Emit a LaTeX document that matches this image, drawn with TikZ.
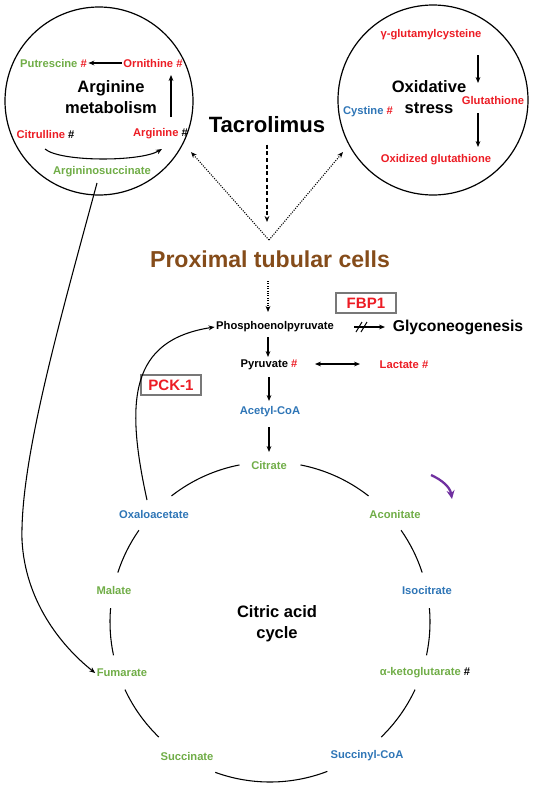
\documentclass[tikz,border=0pt]{standalone}
\usepackage{fontspec}
\setmainfont{Liberation Sans}
\usetikzlibrary{arrows.meta}
\definecolor{cred}{RGB}{236,28,36}
\definecolor{cgreen}{RGB}{112,173,71}
\definecolor{cblue}{RGB}{46,117,182}
\definecolor{cbrown}{RGB}{133,76,26}
\definecolor{cpurple}{RGB}{112,48,160}
\definecolor{cbox}{RGB}{120,120,120}
\begin{document}
\begin{tikzpicture}[x=0.75pt,y=-0.75pt,
  lbl/.style={font=\fontsize{8.4}{10}\selectfont\bfseries, inner sep=1pt},
  mid/.style={font=\fontsize{12.4}{15.7}\selectfont\bfseries, align=center, inner sep=1pt},
  big/.style={font=\fontsize{17}{20}\selectfont\bfseries, inner sep=1pt},
  boxed/.style={draw=cbox, line width=0.9pt, text=cred, font=\fontsize{11.3}{13}\selectfont\bfseries, minimum width=60*0.75pt, minimum height=20*0.75pt, inner sep=1pt},
  ar/.style={-{Stealth[length=4.5pt,width=3.6pt]}, line width=0.8pt},
  cyc/.style={line width=0.8pt},
  ring/.style={line width=0.9pt}]
\useasboundingbox (0,0) rectangle (540,810);

% circles
\draw[ring] (99,101) circle[radius=94];
\draw[ring] (433,100) circle[radius=95];

% arginine metabolism
\node[lbl, text=cgreen] (put) at (53.5,63) {Putrescine \textcolor{cred}{\#}};
\node[lbl, text=cred] (orn) at (153,63) {Ornithine \#};
\node[mid] (argm) at (111,97) {Arginine\\metabolism};
\node[lbl, text=cred] (cit) at (45.5,134) {Citrulline \textcolor{black}{\#}};
\node[lbl, text=cred] (arg) at (160.5,134) {Arginine \textcolor{black}{\#}};
\node[lbl, text=cgreen] (asuc) at (102,172) {Argininosuccinate};
\draw[ar] (orn.west) -- (put.east);
\coordinate (argtop) at (171,117);
\coordinate (orndown) at (171,75);
\draw[ar] (argtop) -- (orndown);
\coordinate (citb) at (45,149);
\coordinate (argb) at (162,149);
\draw[ar] (citb) .. controls (60,162) and (140,162) .. (argb);

% oxidative stress
\node[lbl, text=cred] (gg) at (431,35) {γ-glutamylcysteine};
\node[mid] (ox) at (429,97) {Oxidative\\stress};
\node[lbl, text=cred] (glu) at (493,100) {Glutathione};
\node[lbl, text=cblue] (cys) at (368,112) {Cystine \textcolor{cred}{\#}};
\node[lbl, text=cred] (oxg) at (436,160) {Oxidized glutathione};
\coordinate (g1) at (478,55);
\coordinate (g2) at (478,83);
\coordinate (g3) at (478,113);
\coordinate (g4) at (478,147);
\draw[ar] (g1) -- (g2);
\draw[ar] (g3) -- (g4);

% tacrolimus
\node[big, font=\fontsize{16.6}{20}\selectfont\bfseries] (tac) at (267,125) {Tacrolimus};
\coordinate (apex) at (269,240);
\coordinate (lc) at (191,152);
\coordinate (rc) at (343,152);
\draw[ar, densely dashed] (tac.south) ++(0,10) -- (267,222);
\draw[ar, densely dotted] (apex) -- (lc);
\draw[ar, densely dotted] (apex) -- (rc);
\node[big, text=cbrown, font=\fontsize{17.3}{20}\selectfont\bfseries] (ptc) at (270,259) {Proximal tubular cells};

% glycolysis part
\node[lbl, text=black] (pep) at (275,327) {Phosphoenolpyruvate};
\draw[ar, densely dotted] (268,281) -- (268,312);
\node[boxed] (fbp) at (366,303) {FBP1};
\node[font=\fontsize{11.8}{14}\selectfont\bfseries, inner sep=1pt] (gly) at (458,327) {Glyconeogenesis};
\coordinate (ga) at (354,327);
\coordinate (gb) at (385,327);
\draw[ar] (ga) -- (gb);
\draw[line width=0.75pt] (356,332) -- (362,322);
\draw[line width=0.75pt] (361,332) -- (367,322);
\node[lbl, text=black] (pyr) at (269,365) {Pyruvate \textcolor{cred}{\#}};
\node[lbl, text=cred] (lac) at (404,365) {Lactate \#};
\draw[ar] (268,337) -- (268,357);
\coordinate (da) at (315,364);
\coordinate (db) at (360,364);
\draw[{Stealth[length=4.5pt,width=3.6pt]}-{Stealth[length=4.5pt,width=3.6pt]}, line width=0.8pt] (da) -- (db);
\node[lbl, text=cblue] (acoa) at (270,412) {Acetyl-CoA};
\draw[ar] (269,377) -- (269,401);
\node[boxed] (pck) at (171,385) {PCK-1};

% citric acid cycle
\node[lbl, text=cgreen] (citr) at (269,465) {Citrate};
\draw[ar] (269,427) -- (269,452);
\node[lbl, text=cblue] (oaa) at (154,514) {Oxaloacetate};
\node[lbl, text=cgreen] (aco) at (395,514) {Aconitate};
\node[lbl, text=cgreen] (mal) at (114,590) {Malate};
\node[lbl, text=cblue] (iso) at (427,590) {Isocitrate};
\node[mid] (tca) at (277,624) {Citric acid\\cycle};
\node[lbl, text=cgreen] (fum) at (122,673) {Fumarate};
\node[lbl, text=cgreen] (akg) at (425,673) {α-ketoglutarate \textcolor{black}{\#}};
\node[lbl, text=cgreen] (suc) at (187,756) {Succinate};
\node[lbl, text=cblue] (scoa) at (367,756) {Succinyl-CoA};

\coordinate (cc) at (270,622);
\draw[cyc] (cc) ++(-101:160) arc[start angle=-101, end angle=-128, radius=160];
\draw[cyc] (cc) ++(-52:160) arc[start angle=-52, end angle=-79, radius=160];
\draw[cyc] (cc) ++(-18:160) arc[start angle=-18, end angle=-35, radius=160];
\draw[cyc] (cc) ++(-145:160) arc[start angle=-145, end angle=-162, radius=160];
\draw[cyc] (cc) ++(-175:160) arc[start angle=-175, end angle=-192, radius=160];
\draw[cyc] (cc) ++(-5:160) arc[start angle=-5, end angle=12, radius=160];
\draw[cyc] (cc) ++(134:160) arc[start angle=134, end angle=155, radius=160];
\draw[cyc] (cc) ++(25:160) arc[start angle=25, end angle=46, radius=160];
\draw[cyc] (cc) ++(69:160) arc[start angle=69, end angle=110, radius=160];

% purple direction arrow
\draw[-{Stealth[length=6.5pt,width=6pt]}, cpurple, line width=1.7pt] (431,475) .. controls (442,480) and (450,487) .. (452,499);

% PEP from oxaloacetate
\coordinate (oaatop) at (147,500);
\draw[ar] (oaatop) .. controls (125,400) and (130,340) .. (pep.west);

% argininosuccinate to fumarate
\coordinate (asb) at (97,183);
\draw[ar] (asb) .. controls (60,320) and (20,460) .. (22,540) .. controls (25,600) and (60,645) .. (fum.west);
\end{tikzpicture}
\end{document}
